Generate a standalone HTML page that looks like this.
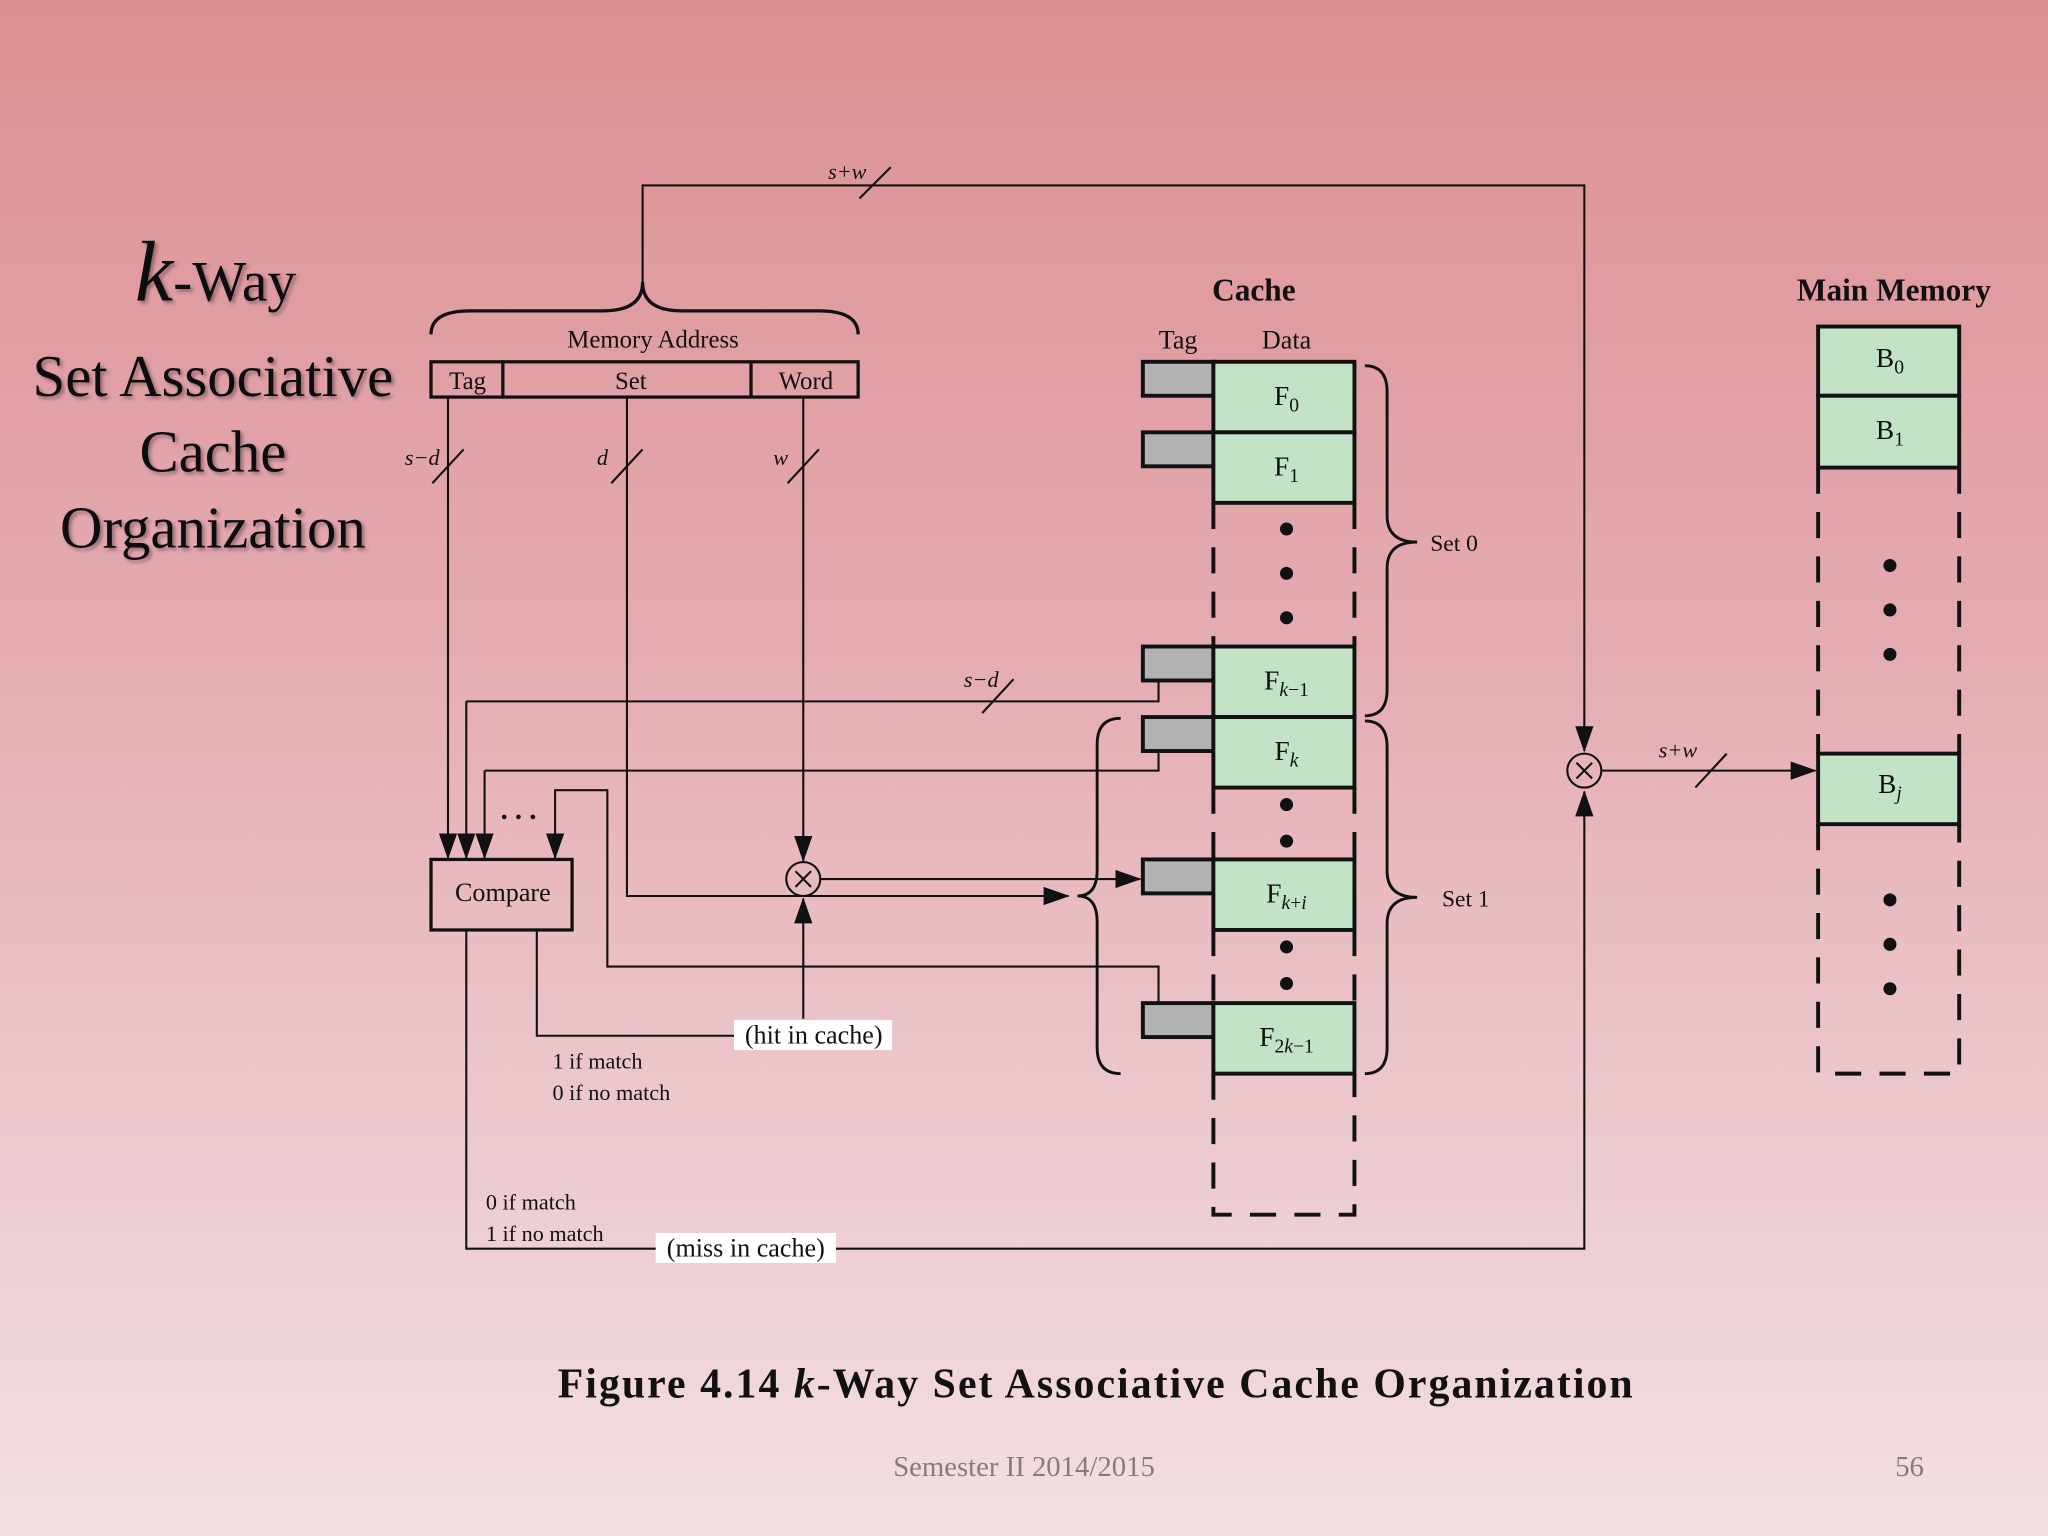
<!DOCTYPE html>
<html><head><meta charset="utf-8"><style>
html,body{margin:0;padding:0;}
body{width:2048px;height:1536px;overflow:hidden;background:linear-gradient(180deg,#dc9093 0%,#e4aab0 40%,#ebc6cb 70%,#f2dfe2 100%);}
svg{display:block}
text{font-family:"Liberation Serif",serif;fill:#111}
</style></head><body>
<svg width="2048" height="1536" viewBox="0 0 1568 1176" xmlns="http://www.w3.org/2000/svg">
<defs>
<marker id="b" markerWidth="20" markerHeight="14" refX="19" refY="7" orient="auto" markerUnits="userSpaceOnUse"><path d="M0,0 L20,7 L0,14 z" fill="#111"/></marker>
<filter id="sh"><feDropShadow dx="2" dy="2" stdDeviation="1.5" flood-color="#000" flood-opacity="0.35"/></filter>
</defs>
<g filter="url(#sh)" text-anchor="middle">
<text x="165" y="230" font-size="44"><tspan font-style="italic" font-size="66">k</tspan>-Way</text>
<text x="163" y="303" font-size="45">Set Associative</text>
<text x="163" y="361" font-size="45">Cache</text>
<text x="163" y="419" font-size="45">Organization</text>
</g>
<g fill="none" stroke="#111" stroke-width="1.6">
<path d="M492,218 L492,142 L1213,142 L1213,575" marker-end="url(#b)"/>
<line x1="658" y1="152" x2="682" y2="128"/>
<path d="M330,256 Q330,238 360,238 L462,238 Q492,238 492,216 Q492,238 522,238 L627,238 Q657,238 657,256" stroke-width="2.5"/>
<rect x="330" y="277" width="327" height="27" stroke-width="2.5"/>
<line x1="385" y1="277" x2="385" y2="304" stroke-width="2.5"/>
<line x1="575" y1="277" x2="575" y2="304" stroke-width="2.5"/>
<path d="M343,304 L343,657" marker-end="url(#b)"/>
<line x1="331" y1="370" x2="355" y2="344"/>
<path d="M480,304 L480,686 L818,686" marker-end="url(#b)"/>
<line x1="468" y1="370" x2="492" y2="344"/>
<path d="M615,304 L615,659" marker-end="url(#b)"/>
<line x1="603" y1="370" x2="627" y2="344"/>
<path d="M357,537 L887,537 L887,522"/>
<path d="M357,537 L357,657" marker-end="url(#b)"/>
<line x1="752" y1="546" x2="776" y2="520"/>
<path d="M371,590 L887,590 L887,576"/>
<path d="M371,590 L371,657" marker-end="url(#b)"/>
<path d="M887,768 L887,740 L465,740 L465,605 L425,605 L425,657" marker-end="url(#b)"/>
<rect x="330" y="658" width="108" height="54" stroke-width="2.5"/>
<circle cx="615" cy="673" r="13"/>
<path d="M609,667 L621,679 M621,667 L609,679"/>
<path d="M628,673 L873,673" marker-end="url(#b)"/>
<path d="M615,780 L615,688" marker-end="url(#b)"/>
<path d="M411,712 L411,793 L562,793"/>
<path d="M357,712 L357,956 L1213,956 L1213,606" marker-end="url(#b)"/>
<circle cx="1213" cy="590" r="13"/>
<path d="M1207,584 L1219,596 M1219,584 L1207,596"/>
<path d="M1226,590 L1390,590" marker-end="url(#b)"/>
<line x1="1298" y1="603" x2="1322" y2="577"/>
<path d="M1045,280 Q1062,280 1062,300 L1062,395 Q1062,415 1085,415 Q1062,415 1062,435 L1062,528 Q1062,548 1045,548" stroke-width="2.2"/>
<path d="M1045,552 Q1062,552 1062,572 L1062,667 Q1062,687 1085,687 Q1062,687 1062,707 L1062,802 Q1062,822 1045,822" stroke-width="2.2"/>
<path d="M858,550 Q840,550 840,570 L840,666 Q840,686 825,686 Q840,686 840,706 L840,802 Q840,822 858,822" stroke-width="2.2"/>
</g>
<g font-size="19">
<text x="500" y="266" text-anchor="middle">Memory Address</text>
<text x="358" y="298" text-anchor="middle">Tag</text>
<text x="483" y="298" text-anchor="middle">Set</text>
<text x="617" y="298" text-anchor="middle">Word</text>
<text x="385" y="690" text-anchor="middle" font-size="20">Compare</text>
<text x="397" y="627" text-anchor="middle" font-size="22" font-weight="bold">. . .</text>
<text x="634" y="137" font-size="17" font-style="italic">s+w</text>
<text x="310" y="356" font-size="17" font-style="italic">s−d</text>
<text x="457" y="356" font-size="17" font-style="italic">d</text>
<text x="592" y="356" font-size="17" font-style="italic">w</text>
<text x="738" y="526" font-size="17" font-style="italic">s−d</text>
<text x="1270" y="580" font-size="17" font-style="italic">s+w</text>
<rect x="562" y="781" width="121" height="23" fill="#fff"/>
<text x="623" y="799" text-anchor="middle" font-size="20">(hit in cache)</text>
<text x="423" y="818" font-size="17">1 if match</text>
<text x="423" y="842" font-size="17">0 if no match</text>
<text x="372" y="926" font-size="17">0 if match</text>
<text x="372" y="950" font-size="17">1 if no match</text>
<rect x="502" y="944" width="138" height="23" fill="#fff"/>
<text x="571" y="962" text-anchor="middle" font-size="20">(miss in cache)</text>
<text x="1095" y="422" font-size="18">Set 0</text>
<text x="1104" y="694" font-size="18">Set 1</text>
</g>
<text x="960" y="230" text-anchor="middle" font-size="24" font-weight="bold">Cache</text>
<text x="902" y="267" text-anchor="middle" font-size="20">Tag</text>
<text x="985" y="267" text-anchor="middle" font-size="20">Data</text>
<g stroke="#111" stroke-width="3">
<g fill="#b3b2b3">
<rect x="875" y="277" width="54" height="26"/><rect x="875" y="331" width="54" height="26"/>
<rect x="875" y="495" width="54" height="26"/><rect x="875" y="549" width="54" height="26"/>
<rect x="875" y="658" width="54" height="26"/><rect x="875" y="768" width="54" height="26"/>
</g>
<g fill="#c2e3c6">
<rect x="929" y="277" width="108" height="54"/><rect x="929" y="331" width="108" height="54"/>
<rect x="929" y="495" width="108" height="54"/><rect x="929" y="549" width="108" height="54"/>
<rect x="929" y="658" width="108" height="54"/><rect x="929" y="768" width="108" height="54"/>
<rect x="1392" y="250" width="108" height="53"/><rect x="1392" y="303" width="108" height="55"/>
<rect x="1392" y="577" width="108" height="54"/>
</g>
<g stroke-dasharray="20,14" fill="none">
<path d="M929,385 L929,495 M1037,385 L1037,495"/>
<path d="M929,603 L929,658 M1037,603 L1037,658"/>
<path d="M929,712 L929,768 M1037,712 L1037,768"/>
<path d="M929,822 L929,930 L1037,930 L1037,822"/>
<path d="M1392,358 L1392,577 M1500,358 L1500,577"/>
<path d="M1392,631 L1392,822 L1500,822 L1500,631"/>
</g>
</g>
<g fill="#111">
<circle cx="985" cy="405" r="5"/><circle cx="985" cy="439" r="5"/><circle cx="985" cy="473" r="5"/>
<circle cx="985" cy="616" r="5"/><circle cx="985" cy="644" r="5"/>
<circle cx="985" cy="725" r="5"/><circle cx="985" cy="753" r="5"/>
<circle cx="1447" cy="433" r="5"/><circle cx="1447" cy="467" r="5"/><circle cx="1447" cy="501" r="5"/>
<circle cx="1447" cy="689" r="5"/><circle cx="1447" cy="723" r="5"/><circle cx="1447" cy="757" r="5"/>
</g>
<g font-size="21" text-anchor="middle">
<text x="985" y="310">F<tspan font-size="15" dy="5">0</tspan></text>
<text x="985" y="364">F<tspan font-size="15" dy="5">1</tspan></text>
<text x="985" y="528">F<tspan font-size="15" dy="5"><tspan font-style="italic">k</tspan>−1</tspan></text>
<text x="985" y="582">F<tspan font-size="15" dy="5" font-style="italic">k</tspan></text>
<text x="985" y="691">F<tspan font-size="15" dy="5"><tspan font-style="italic">k</tspan>+<tspan font-style="italic">i</tspan></tspan></text>
<text x="985" y="801">F<tspan font-size="15" dy="5">2<tspan font-style="italic">k</tspan>−1</tspan></text>
<text x="1447" y="281">B<tspan font-size="15" dy="5">0</tspan></text>
<text x="1447" y="336">B<tspan font-size="15" dy="5">1</tspan></text>
<text x="1447" y="607">B<tspan font-size="15" dy="5" font-style="italic">j</tspan></text>
</g>
<text x="1450" y="230" text-anchor="middle" font-size="24" font-weight="bold">Main Memory</text>
<text x="427" y="1070" font-size="32" font-weight="bold" textLength="823" lengthAdjust="spacing">Figure 4.14   <tspan font-style="italic">k</tspan>-Way Set Associative Cache Organization</text>
<text x="784" y="1130" text-anchor="middle" font-size="22" style="fill:#8a7a7c">Semester II 2014/2015</text>
<text x="1462" y="1130" text-anchor="middle" font-size="22" style="fill:#8a7a7c">56</text>
</svg>
</body></html>
